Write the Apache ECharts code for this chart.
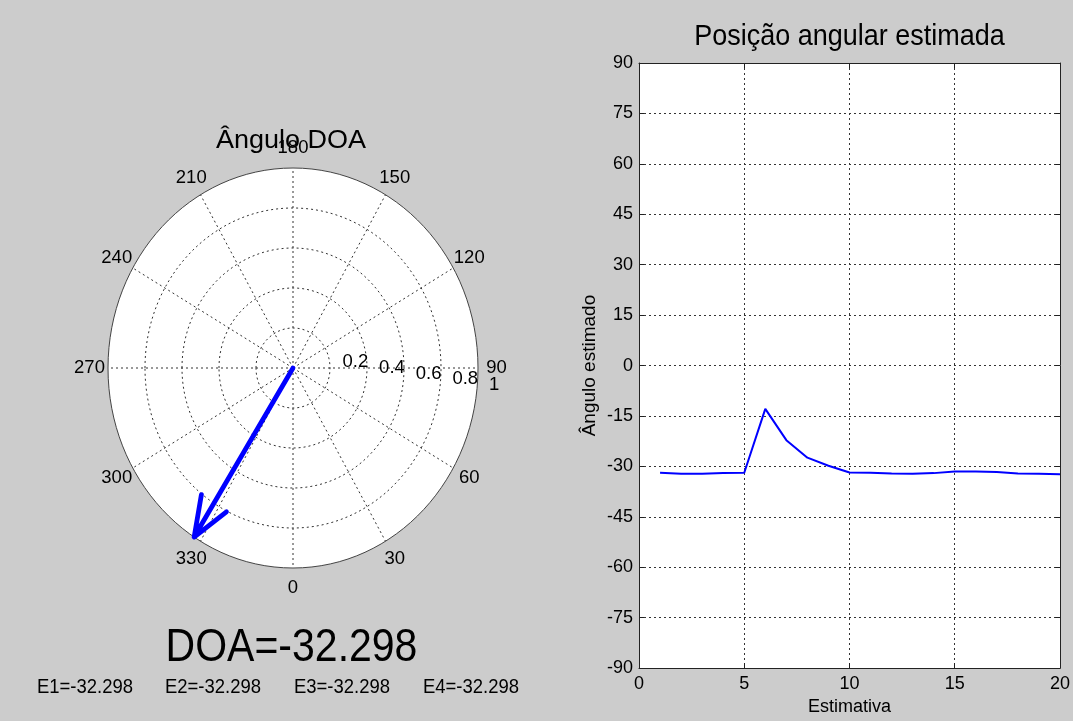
<!DOCTYPE html>
<html>
<head>
<meta charset="utf-8">
<script src="https://cdn.jsdelivr.net/npm/echarts@6/dist/echarts.min.js"></script>
<style>
html,body{margin:0;padding:0;background:#cccccc;}
#chart{width:1073px;height:721px;}
</style>
</head>
<body>
<div id="chart"></div>
<script>
// ---- data ----
const estimativa = [1,2,3,4,5,6,7,8,9,10,11,12,13,14,15,16,17,18,19,20];
const anguloEstimado = [-31.9,-32.2,-32.2,-32.0,-31.9,-12.9,-22.2,-27.4,-29.8,-31.8,-31.9,-32.1,-32.2,-32.0,-31.5,-31.5,-31.7,-32.1,-32.2,-32.3];
const xTicks = [0,5,10,15,20];
const yTicks = [-90,-75,-60,-45,-30,-15,0,15,30,45,60,75,90];
const doaAngle = -32.298;
const doaMagnitude = 1;
const estimateNames = ['E1','E2','E3','E4'];
const estimateValues = [-32.298,-32.298,-32.298,-32.298];
const angleTicks = [0,30,60,90,120,150,180,210,240,270,300,330];
const ringTicks = [0.2,0.4,0.6,0.8,1];
const ringLabels = ['0.2','0.4','0.6','0.8','1'];
const ringLabelAngle = 82;

const FONT = '"Liberation Sans", Arial, sans-serif';
const rad = d => d * Math.PI / 180;
// compass orientation: 0 at bottom, 90 at right, 180 at top
const dirX = a => Math.sin(rad(a));
const dirY = a => -Math.cos(rad(a));

function renderPolarGrid(params, api) {
  const c = api.coord([0, 0]);
  const rx = api.coord([1, 0])[0] - c[0];
  const ry = c[1] - api.coord([0, 1])[1];
  const ch = [];
  ch.push({type:'ellipse', shape:{cx:c[0], cy:c[1], rx:rx, ry:ry}, style:{fill:'#ffffff', stroke:'none'}});
  ringTicks.forEach(r => {
    if (r < 1) {
      ch.push({type:'ellipse', shape:{cx:c[0], cy:c[1], rx:rx*r, ry:ry*r},
        style:{fill:'none', stroke:'#333', lineWidth:1, lineDash:[2,3]}});
    }
  });
  angleTicks.forEach(a => {
    const p = api.coord([dirX(a), dirY(a)]);
    ch.push({type:'line', shape:{x1:c[0], y1:c[1], x2:p[0], y2:p[1]},
      style:{stroke:'#333', lineWidth:1, lineDash:[2,3]}});
  });
  ch.push({type:'ellipse', shape:{cx:c[0], cy:c[1], rx:rx, ry:ry}, style:{fill:'none', stroke:'#444', lineWidth:1}});
  angleTicks.forEach(a => {
    const p = api.coord([1.1*dirX(a), 1.1*dirY(a)]);
    ch.push({type:'text', style:{x:p[0], y:p[1], text:String(a), fill:'#000', fontSize:18.5, fontFamily:FONT, align:'center', verticalAlign:'middle'}});
  });
  ringTicks.forEach((r, i) => {
    const p = api.coord([(r+0.01)*dirX(ringLabelAngle), (r+0.01)*dirY(ringLabelAngle)]);
    ch.push({type:'text', style:{x:p[0]+11, y:p[1]-11.5, text:ringLabels[i], fill:'#000', fontSize:18.5, fontFamily:FONT, align:'left', verticalAlign:'middle'}});
  });
  return {type:'group', children:ch};
}

function renderArrow(params, api) {
  const a = api.value(0), m = api.value(1);
  const zx = m*dirX(a), zy = m*dirY(a);
  // perpendicular (i*z)
  const ix = -zy, iy = zx;
  const pts = [
    [0,0],
    [zx, zy],
    [0.8*zx + 0.08*ix, 0.8*zy + 0.08*iy],
    [zx, zy],
    [0.8*zx - 0.08*ix, 0.8*zy - 0.08*iy]
  ].map(p => api.coord(p));
  return {type:'polyline', shape:{points:pts}, style:{fill:'none', stroke:'#0000ff', lineWidth:4.8, lineJoin:'round', lineCap:'round'}};
}

const axisLineStyle = {color:'#222', width:1};
const splitStyle = {show:true, lineStyle:{color:'#333', width:1, type:[2,3]}};
const labelStyle = {fontSize:18, color:'#000', fontFamily:FONT};

const chart = echarts.init(document.getElementById('chart'), null, {renderer:'canvas'});
chart.setOption({
  backgroundColor:'#cccccc',
  animation:false,
  grid:[
    {left:108, top:168, width:370, height:400, show:false},
    {left:639, top:63, width:424, height:609, show:true, backgroundColor:'#ffffff', borderWidth:0}
  ],
  xAxis:[
    {gridIndex:0, type:'value', min:-1, max:1, show:false},
    {gridIndex:1, type:'value', min:xTicks[0], max:xTicks[xTicks.length-1], interval:5, position:'bottom',
      axisLine:{show:true, onZero:false, lineStyle:axisLineStyle},
      axisTick:{show:true, inside:true, length:5, lineStyle:axisLineStyle},
      axisLabel:Object.assign({margin:7, formatter: v => xTicks.includes(v) ? String(v) : ''}, labelStyle),
      splitLine:splitStyle,
      name:'Estimativa', nameLocation:'middle', nameGap:28,
      nameTextStyle:{fontSize:18, color:'#000', fontFamily:FONT}},
    {gridIndex:1, type:'value', min:xTicks[0], max:xTicks[xTicks.length-1], interval:5, position:'top',
      axisLine:{show:true, onZero:false, lineStyle:axisLineStyle},
      axisTick:{show:true, inside:true, length:5, lineStyle:axisLineStyle},
      axisLabel:{show:false}, splitLine:{show:false}}
  ],
  yAxis:[
    {gridIndex:0, type:'value', min:-1, max:1, show:false},
    {gridIndex:1, type:'value', min:yTicks[0], max:yTicks[yTicks.length-1], interval:15, position:'left',
      axisLine:{show:true, onZero:false, lineStyle:axisLineStyle},
      axisTick:{show:true, inside:true, length:5, lineStyle:axisLineStyle},
      axisLabel:Object.assign({margin:6, formatter: v => yTicks.includes(v) ? String(v) : ''}, labelStyle),
      splitLine:splitStyle,
      name:'Ângulo estimado', nameLocation:'middle', nameGap:40,
      nameTextStyle:{fontSize:19, color:'#000', fontFamily:FONT}},
    {gridIndex:1, type:'value', min:yTicks[0], max:yTicks[yTicks.length-1], interval:15, position:'right',
      axisLine:{show:true, onZero:false, lineStyle:axisLineStyle},
      axisTick:{show:true, inside:true, length:5, lineStyle:axisLineStyle},
      axisLabel:{show:false}, splitLine:{show:false}}
  ],
  series:[
    {type:'custom', xAxisIndex:0, yAxisIndex:0, clip:false, z:1, silent:true,
      data:[[0,0]], renderItem:renderPolarGrid},
    {type:'custom', xAxisIndex:0, yAxisIndex:0, clip:false, z:3, silent:true,
      data:[[doaAngle, doaMagnitude]], renderItem:renderArrow},
    {type:'line', xAxisIndex:1, yAxisIndex:1, showSymbol:false, z:3,
      data:estimativa.map((x,i) => [x, anguloEstimado[i]]),
      lineStyle:{color:'#0000ff', width:2}, itemStyle:{color:'#0000ff'}}
  ],
  graphic:[
    {type:'text', x:291, y:141, scaleX:1.08, z:10,
      style:{text:'Ângulo DOA', fill:'#000', fontSize:25, fontFamily:FONT, align:'center', verticalAlign:'middle'}},
    {type:'text', x:849.5, y:36.5, scaleY:1.08, z:10,
      style:{text:'Posição angular estimada', fill:'#000', fontSize:27, fontFamily:FONT, align:'center', verticalAlign:'middle'}},
    {type:'text', x:291.5, y:648, scaleY:1.11, z:10,
      style:{text:'DOA=' + doaAngle, fill:'#000', fontSize:41, fontFamily:FONT, align:'center', verticalAlign:'middle'}}
  ].concat(estimateNames.map((n, i) => ({
    type:'text', x:[85,213,342,471][i], y:688, scaleY:1.05, z:10,
    style:{text:n + '=' + estimateValues[i], fill:'#000', fontSize:18.5, fontFamily:FONT, align:'center', verticalAlign:'middle'}
  })))
});
</script>
</body>
</html>
